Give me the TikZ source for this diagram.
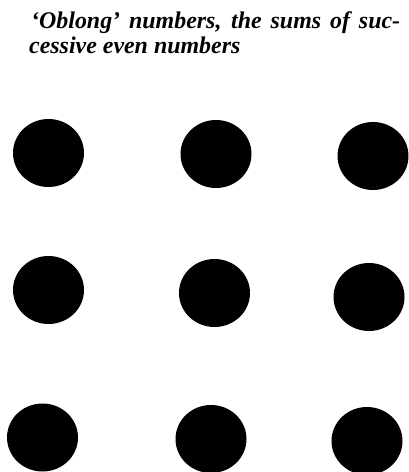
\documentclass[tikz,border=0pt]{standalone}
\usepackage{fontspec}
\setmainfont{Liberation Serif}
\usetikzlibrary{shapes.geometric}

\begin{document}
\begin{tikzpicture}[x=1bp, y=-1bp,
  title/.style={anchor=base west, inner sep=0pt, font=\fontsize{24}{29}\selectfont\bfseries\itshape},
  dot/.style={ellipse, fill=black, inner sep=0pt, minimum width=71bp, minimum height=68bp}]
  \useasboundingbox (0,0) rectangle (408,472);

  % Titel
  \node[title] (line1) at (31,29) {\makebox[369bp][s]{`Oblong' numbers, the sums of suc-}};
  \node[title] (line2) at (29,54) {cessive even numbers};

  % Punkte, erste Reihe
  \node[dot] (p11) at (48.5,153) {};
  \node[dot] (p12) at (216,154) {};
  \node[dot] (p13) at (373,156) {};

  % zweite Reihe
  \node[dot] (p21) at (48.5,290) {};
  \node[dot] (p22) at (214.5,293) {};
  \node[dot] (p23) at (369,297) {};

  % dritte Reihe
  \node[dot] (p31) at (42.5,437.5) {};
  \node[dot] (p32) at (211,439) {};
  \node[dot] (p33) at (367,441) {};
\end{tikzpicture}
\end{document}
